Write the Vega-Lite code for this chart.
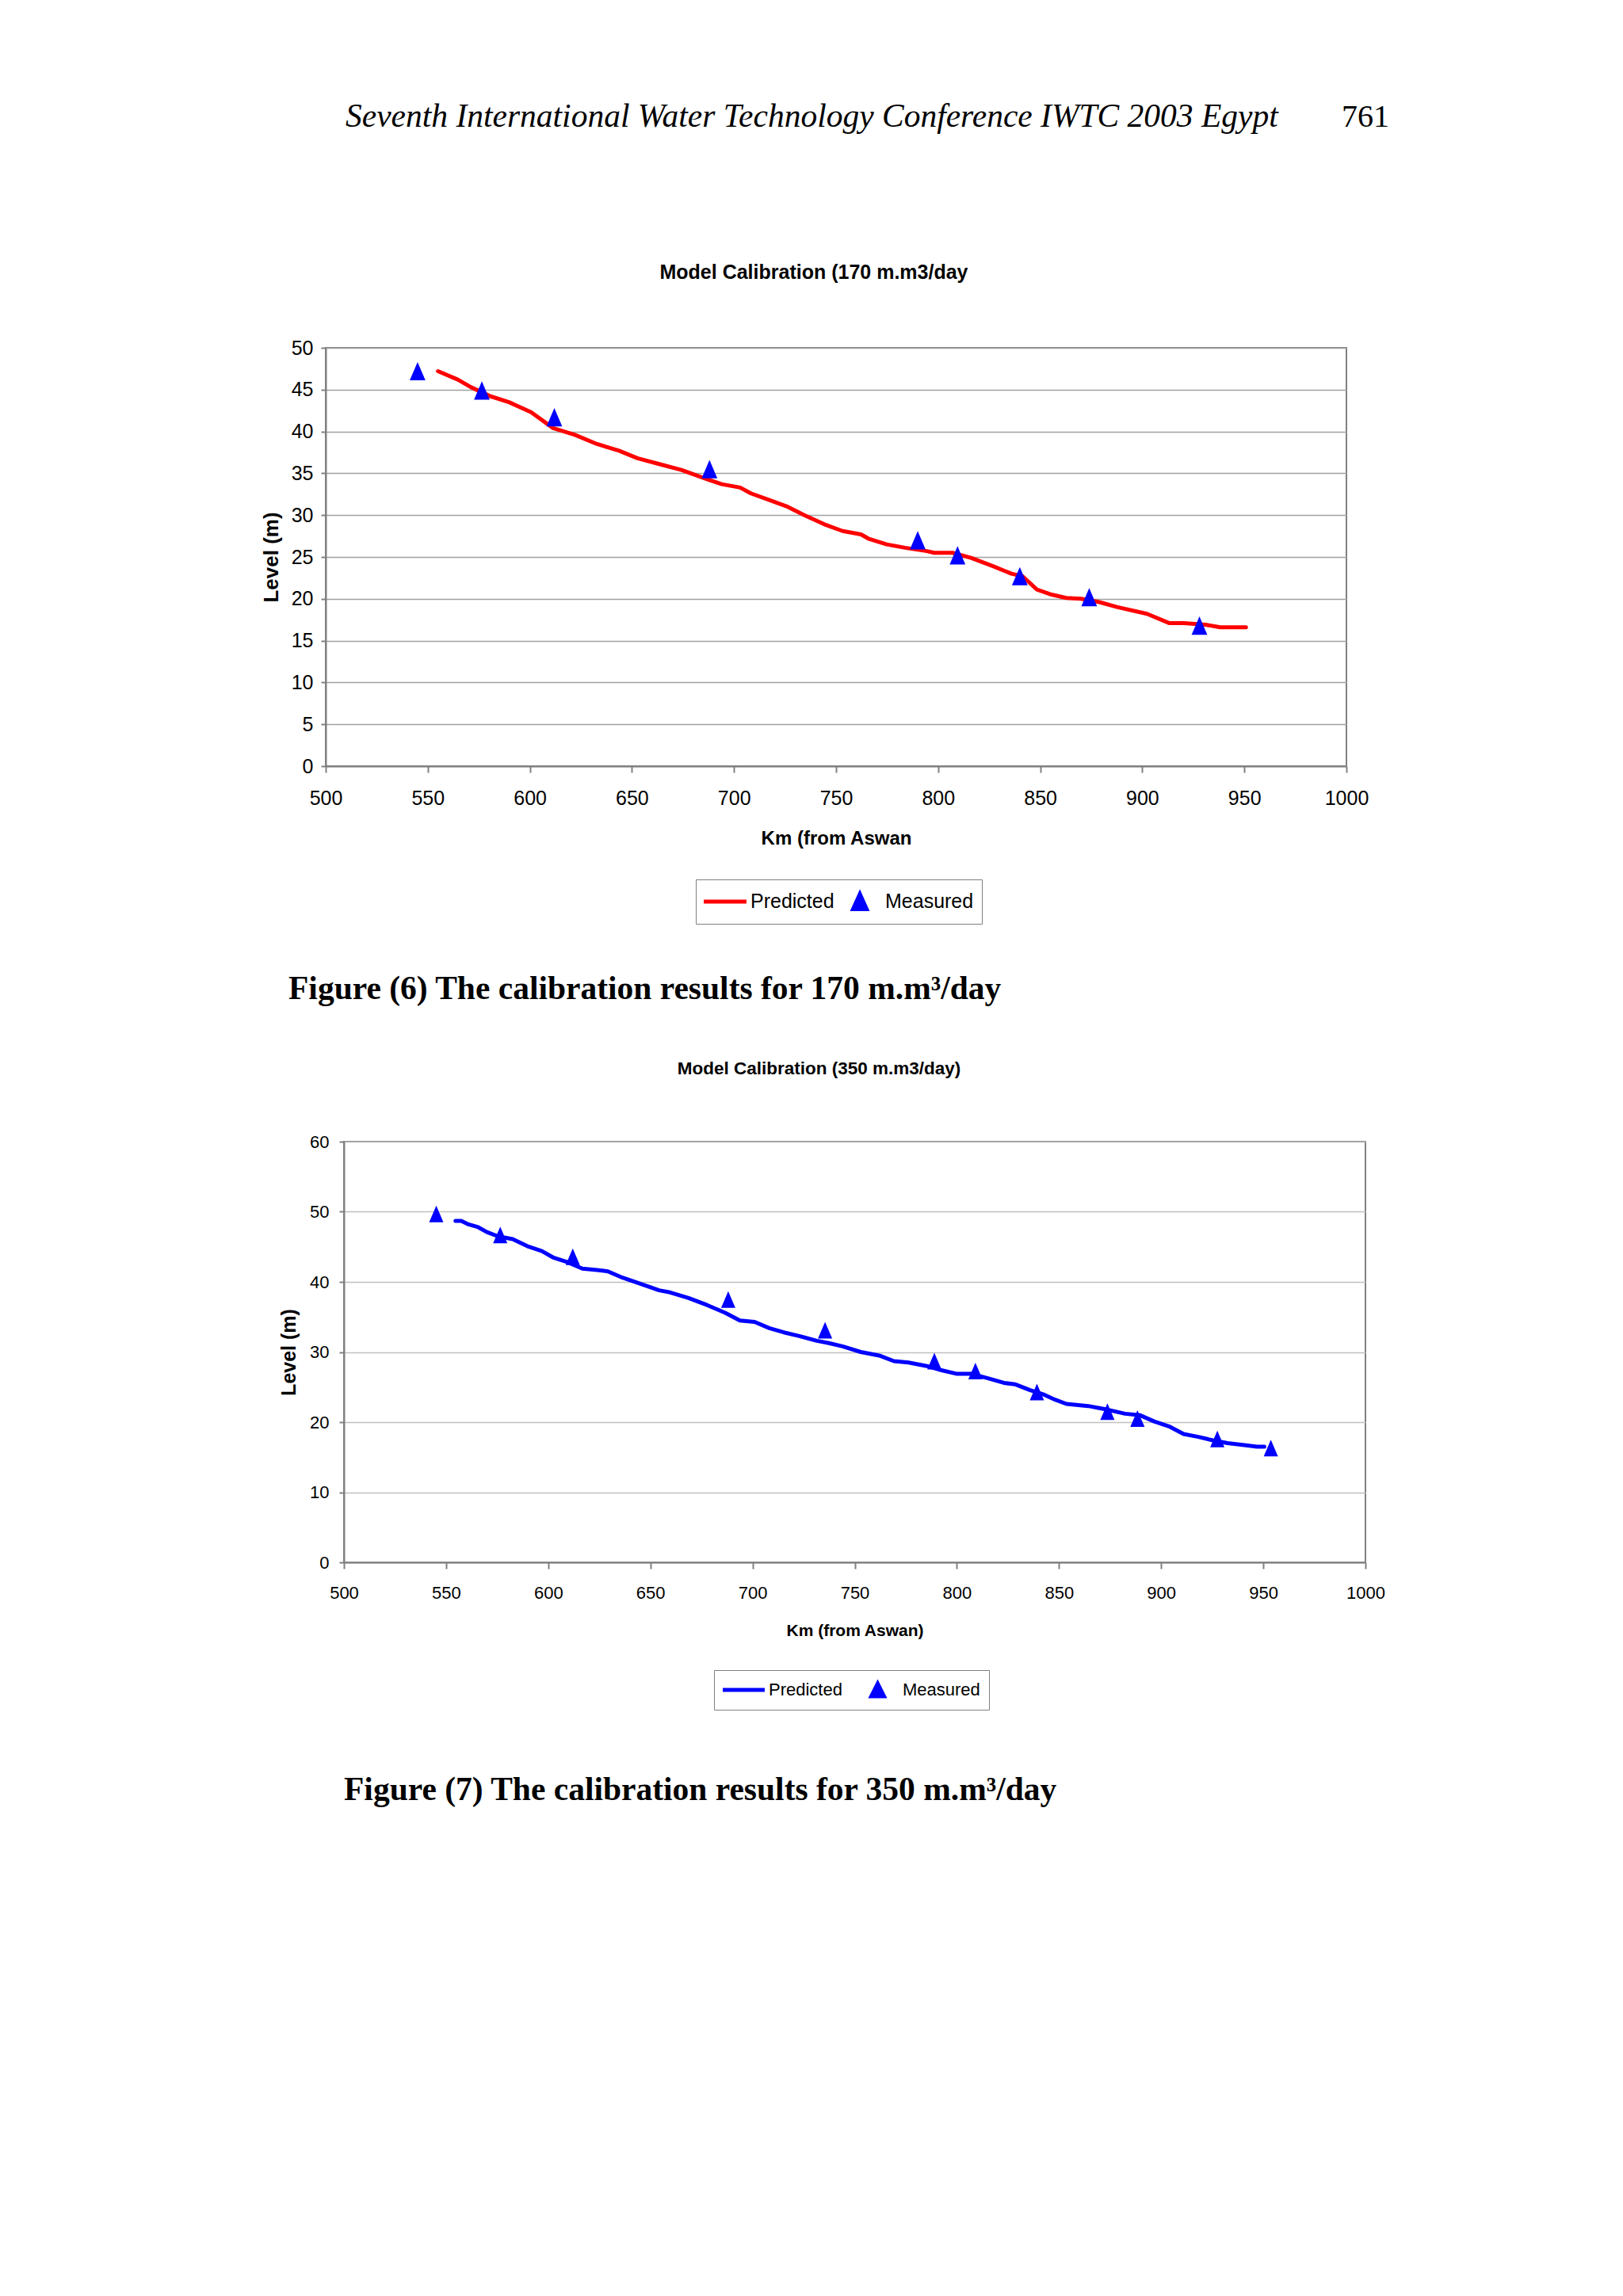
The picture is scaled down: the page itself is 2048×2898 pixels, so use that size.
{
  "$schema": "https://vega.github.io/schema/vega-lite/v6.json",
  "background": "white",
  "padding": {"left": 328, "top": 0, "right": 0, "bottom": 0},
  "bounds": "flush",
  "spacing": 0,
  "resolve": {"scale": {"color": "independent"}, "legend": {"color": "independent"}},
  "config": {
    "font": "Liberation Sans",
    "view": {"stroke": "#808080", "strokeWidth": 2},
    "axis": {"domainColor": "#808080", "domainWidth": 2, "tickColor": "#808080", "tickWidth": 2, "labelColor": "#000000", "titleColor": "#000000", "labelFont": "Liberation Sans", "titleFont": "Liberation Sans", "labelFlush": false, "labelOverlap": false},
    "title": {"color": "#000000", "font": "Liberation Sans", "fontWeight": "bold", "anchor": "middle"}
  },
  "datasets": {
    "header": [{"t": "Seventh International Water Technology Conference IWTC 2003 Egypt"}],
    "pageno": [{"t": "761"}],
    "cap6": [{"t": "Figure (6) The calibration results for 170 m.m³/day"}],
    "cap7": [{"t": "Figure (7) The calibration results for 350 m.m³/day"}],
    "pred170": [
      {"km": 555, "level": 47.2, "series": "Predicted"},
      {"km": 564.7, "level": 46.2, "series": "Predicted"},
      {"km": 571.1, "level": 45.3, "series": "Predicted"},
      {"km": 580.8, "level": 44.2, "series": "Predicted"},
      {"km": 589.8, "level": 43.5, "series": "Predicted"},
      {"km": 600.6, "level": 42.3, "series": "Predicted"},
      {"km": 611.4, "level": 40.4, "series": "Predicted"},
      {"km": 622.1, "level": 39.6, "series": "Predicted"},
      {"km": 632.9, "level": 38.5, "series": "Predicted"},
      {"km": 643.7, "level": 37.7, "series": "Predicted"},
      {"km": 652.7, "level": 36.8, "series": "Predicted"},
      {"km": 663.4, "level": 36.1, "series": "Predicted"},
      {"km": 674.2, "level": 35.4, "series": "Predicted"},
      {"km": 686.8, "level": 34.3, "series": "Predicted"},
      {"km": 694, "level": 33.7, "series": "Predicted"},
      {"km": 703, "level": 33.3, "series": "Predicted"},
      {"km": 708.3, "level": 32.6, "series": "Predicted"},
      {"km": 717.3, "level": 31.8, "series": "Predicted"},
      {"km": 726.3, "level": 31.0, "series": "Predicted"},
      {"km": 735.3, "level": 29.9, "series": "Predicted"},
      {"km": 744.3, "level": 28.9, "series": "Predicted"},
      {"km": 753.2, "level": 28.1, "series": "Predicted"},
      {"km": 762.2, "level": 27.7, "series": "Predicted"},
      {"km": 765.8, "level": 27.2, "series": "Predicted"},
      {"km": 774.8, "level": 26.5, "series": "Predicted"},
      {"km": 783.8, "level": 26.1, "series": "Predicted"},
      {"km": 794.5, "level": 25.7, "series": "Predicted"},
      {"km": 798.1, "level": 25.5, "series": "Predicted"},
      {"km": 807.1, "level": 25.5, "series": "Predicted"},
      {"km": 816.1, "level": 24.9, "series": "Predicted"},
      {"km": 826.9, "level": 23.9, "series": "Predicted"},
      {"km": 835.9, "level": 23.0, "series": "Predicted"},
      {"km": 841.3, "level": 22.7, "series": "Predicted"},
      {"km": 848.4, "level": 21.1, "series": "Predicted"},
      {"km": 855.6, "level": 20.5, "series": "Predicted"},
      {"km": 862.8, "level": 20.1, "series": "Predicted"},
      {"km": 870, "level": 20.0, "series": "Predicted"},
      {"km": 879, "level": 19.6, "series": "Predicted"},
      {"km": 887.9, "level": 19.0, "series": "Predicted"},
      {"km": 902.3, "level": 18.2, "series": "Predicted"},
      {"km": 913.1, "level": 17.1, "series": "Predicted"},
      {"km": 920.3, "level": 17.1, "series": "Predicted"},
      {"km": 931, "level": 16.9, "series": "Predicted"},
      {"km": 938.2, "level": 16.6, "series": "Predicted"},
      {"km": 950.8, "level": 16.6, "series": "Predicted"}
    ],
    "meas170": [
      {"km": 545, "level": 47.2, "series": "Measured"},
      {"km": 576.5, "level": 44.9, "series": "Measured"},
      {"km": 612, "level": 41.7, "series": "Measured"},
      {"km": 688, "level": 35.5, "series": "Measured"},
      {"km": 790, "level": 27.0, "series": "Measured"},
      {"km": 809.5, "level": 25.2, "series": "Measured"},
      {"km": 840, "level": 22.7, "series": "Measured"},
      {"km": 874, "level": 20.2, "series": "Measured"},
      {"km": 928, "level": 16.8, "series": "Measured"}
    ],
    "pred350": [
      {"km": 554.6, "level": 48.7, "series": "Predicted"},
      {"km": 557.4, "level": 48.7, "series": "Predicted"},
      {"km": 561.0, "level": 48.2, "series": "Predicted"},
      {"km": 565.7, "level": 47.8, "series": "Predicted"},
      {"km": 570.0, "level": 47.1, "series": "Predicted"},
      {"km": 575.4, "level": 46.5, "series": "Predicted"},
      {"km": 582.6, "level": 46.1, "series": "Predicted"},
      {"km": 589.7, "level": 45.1, "series": "Predicted"},
      {"km": 596.9, "level": 44.4, "series": "Predicted"},
      {"km": 602.3, "level": 43.5, "series": "Predicted"},
      {"km": 609.5, "level": 42.8, "series": "Predicted"},
      {"km": 616.7, "level": 41.9, "series": "Predicted"},
      {"km": 623.9, "level": 41.7, "series": "Predicted"},
      {"km": 629.2, "level": 41.5, "series": "Predicted"},
      {"km": 636.4, "level": 40.6, "series": "Predicted"},
      {"km": 645.4, "level": 39.7, "series": "Predicted"},
      {"km": 654.3, "level": 38.8, "series": "Predicted"},
      {"km": 659.7, "level": 38.5, "series": "Predicted"},
      {"km": 668.7, "level": 37.7, "series": "Predicted"},
      {"km": 677.7, "level": 36.7, "series": "Predicted"},
      {"km": 686.6, "level": 35.6, "series": "Predicted"},
      {"km": 693.8, "level": 34.5, "series": "Predicted"},
      {"km": 701.0, "level": 34.3, "series": "Predicted"},
      {"km": 708.2, "level": 33.4, "series": "Predicted"},
      {"km": 715.3, "level": 32.8, "series": "Predicted"},
      {"km": 722.5, "level": 32.3, "series": "Predicted"},
      {"km": 731.5, "level": 31.6, "series": "Predicted"},
      {"km": 736.9, "level": 31.3, "series": "Predicted"},
      {"km": 744.1, "level": 30.8, "series": "Predicted"},
      {"km": 753.0, "level": 30.0, "series": "Predicted"},
      {"km": 762.0, "level": 29.5, "series": "Predicted"},
      {"km": 769.2, "level": 28.7, "series": "Predicted"},
      {"km": 776.3, "level": 28.5, "series": "Predicted"},
      {"km": 785.3, "level": 28.0, "series": "Predicted"},
      {"km": 792.5, "level": 27.4, "series": "Predicted"},
      {"km": 799.7, "level": 26.9, "series": "Predicted"},
      {"km": 806.9, "level": 26.9, "series": "Predicted"},
      {"km": 815.9, "level": 26.2, "series": "Predicted"},
      {"km": 823.0, "level": 25.6, "series": "Predicted"},
      {"km": 828.4, "level": 25.4, "series": "Predicted"},
      {"km": 835.6, "level": 24.6, "series": "Predicted"},
      {"km": 842.8, "level": 23.9, "series": "Predicted"},
      {"km": 848.1, "level": 23.2, "series": "Predicted"},
      {"km": 853.6, "level": 22.6, "series": "Predicted"},
      {"km": 864.3, "level": 22.3, "series": "Predicted"},
      {"km": 873.3, "level": 21.8, "series": "Predicted"},
      {"km": 882.3, "level": 21.2, "series": "Predicted"},
      {"km": 889.5, "level": 21.0, "series": "Predicted"},
      {"km": 896.6, "level": 20.1, "series": "Predicted"},
      {"km": 903.8, "level": 19.4, "series": "Predicted"},
      {"km": 911.0, "level": 18.3, "series": "Predicted"},
      {"km": 918.2, "level": 17.9, "series": "Predicted"},
      {"km": 925.3, "level": 17.4, "series": "Predicted"},
      {"km": 932.5, "level": 17.0, "series": "Predicted"},
      {"km": 941.5, "level": 16.7, "series": "Predicted"},
      {"km": 946.9, "level": 16.5, "series": "Predicted"},
      {"km": 950.5, "level": 16.5, "series": "Predicted"}
    ],
    "meas350": [
      {"km": 545.2, "level": 49.7, "series": "Measured"},
      {"km": 576.5, "level": 46.7, "series": "Measured"},
      {"km": 612, "level": 43.6, "series": "Measured"},
      {"km": 688.1, "level": 37.5, "series": "Measured"},
      {"km": 735.5, "level": 33.1, "series": "Measured"},
      {"km": 789, "level": 28.7, "series": "Measured"},
      {"km": 809.1, "level": 27.3, "series": "Measured"},
      {"km": 839.2, "level": 24.3, "series": "Measured"},
      {"km": 873.7, "level": 21.5, "series": "Measured"},
      {"km": 888.4, "level": 20.5, "series": "Measured"},
      {"km": 927.5, "level": 17.6, "series": "Measured"},
      {"km": 953.7, "level": 16.3, "series": "Measured"}
    ]
  },
  "vconcat": [
    {
      "width": 1288,
      "height": 439,
      "view": {"stroke": null},
      "layer": [
        {
          "data": {"name": "header"},
          "mark": {"type": "text", "font": "Liberation Serif", "fontStyle": "italic", "fontSize": 41.5, "align": "left", "baseline": "middle", "color": "#000000"},
          "encoding": {"text": {"field": "t"}, "x": {"value": 25}, "y": {"value": 148}}
        },
        {
          "data": {"name": "pageno"},
          "mark": {"type": "text", "font": "Liberation Serif", "fontSize": 40, "align": "right", "baseline": "middle", "color": "#000000"},
          "encoding": {"text": {"field": "t"}, "x": {"value": 1342}, "y": {"value": 148}}
        }
      ]
    },
    {
      "width": 1288,
      "height": 528,
      "title": {"text": "Model Calibration (170 m.m3/day", "fontSize": 25, "dx": -28, "offset": 70},
      "layer": [
        {
          "data": {"name": "pred170"},
          "mark": {"type": "line", "strokeWidth": 5, "strokeCap": "round", "strokeJoin": "round"},
          "encoding": {
            "x": {"field": "km", "type": "quantitative", "scale": {"domain": [500, 1000], "nice": false, "zero": false},
              "axis": {"values": [500, 550, 600, 650, 700, 750, 800, 850, 900, 950, 1000], "format": "d", "title": "Km (from Aswan", "titleFontSize": 24, "titleFontWeight": "bold", "labelFontSize": 25, "tickSize": 8, "labelPadding": 20, "titlePadding": 26, "grid": false}},
            "y": {"field": "level", "type": "quantitative", "scale": {"domain": [0, 50], "nice": false},
              "axis": {"values": [0, 5, 10, 15, 20, 25, 30, 35, 40, 45, 50], "title": "Level (m)", "titleFontSize": 26, "titleFontWeight": "bold", "labelFontSize": 25, "tickSize": 6, "labelPadding": 10, "titlePadding": 12, "grid": true, "gridColor": "#a0a0a0", "gridWidth": 1.5}},
            "color": {"field": "series", "type": "nominal", "scale": {"domain": ["Predicted", "Measured"], "range": ["#ff0000", "#0000ff"]},
              "legend": {"title": null, "orient": "none", "legendX": 467, "legendY": 671, "direction": "horizontal", "labelFontSize": 25, "labelFont": "Liberation Sans", "labelColor": "#000000", "strokeColor": "#808080", "padding": 10, "clipHeight": 36, "symbolType": "stroke", "symbolSize": 2401, "symbolStrokeWidth": 5, "labelOffset": 5, "columnPadding": 5,
                "encode": {"symbols": {"update": {
                  "shape": {"signal": "datum.value === 'Measured' ? 'M0,-0.39L-0.35,0.39L0.35,0.39Z' : 'M-1.1,0L1.1,0'"},
                  "fill": {"signal": "datum.value === 'Measured' ? '#0000ff' : 'transparent'"},
                  "stroke": {"signal": "datum.value === 'Measured' ? 'transparent' : '#ff0000'"},
                  "opacity": {"value": 1}
                }}}}}
          }
        },
        {
          "data": {"name": "meas170"},
          "mark": {"type": "point", "filled": true, "opacity": 1, "shape": "M0,-1.05L-0.9,1.05L0.9,1.05Z", "size": 484},
          "encoding": {
            "x": {"field": "km", "type": "quantitative"},
            "y": {"field": "level", "type": "quantitative"},
            "color": {"field": "series", "type": "nominal"}
          }
        }
      ]
    },
    {
      "width": 1288,
      "height": 474,
      "view": {"stroke": null},
      "data": {"name": "cap6"},
      "mark": {"type": "text", "font": "Liberation Serif", "fontWeight": "bold", "fontSize": 41.5, "align": "left", "baseline": "middle", "color": "#000000"},
      "encoding": {"text": {"field": "t"}, "x": {"value": -47}, "y": {"value": 282}}
    },
    {
      "bounds": "flush",
      "spacing": 0,
      "hconcat": [
        {
          "width": 23,
          "height": 531,
          "view": {"stroke": null},
          "data": {"name": "pageno"},
          "mark": {"type": "text", "opacity": 0},
          "encoding": {"x": {"value": 0}, "y": {"value": 0}}
        },
        {
          "width": 1289,
          "height": 531,
          "title": {"text": "Model Calibration (350 m.m3/day)", "fontSize": 22.5, "dx": -45, "offset": 70},
          "layer": [
            {
              "data": {"name": "pred350"},
              "mark": {"type": "line", "strokeWidth": 5, "strokeCap": "round", "strokeJoin": "round"},
              "encoding": {
                "x": {"field": "km", "type": "quantitative", "scale": {"domain": [500, 1000], "nice": false, "zero": false},
                  "axis": {"values": [500, 550, 600, 650, 700, 750, 800, 850, 900, 950, 1000], "format": "d", "title": "Km (from Aswan)", "titleFontSize": 21, "titleFontWeight": "bold", "labelFontSize": 22, "tickSize": 8, "labelPadding": 20, "titlePadding": 26, "grid": false}},
                "y": {"field": "level", "type": "quantitative", "scale": {"domain": [0, 60], "nice": false},
                  "axis": {"values": [0, 10, 20, 30, 40, 50, 60], "title": "Level (m)", "titleFontSize": 25, "titleFontWeight": "bold", "labelFontSize": 22, "tickSize": 6, "labelPadding": 13, "titlePadding": 13, "grid": true, "gridColor": "#c0c0c0", "gridWidth": 1.5}},
                "color": {"field": "series", "type": "nominal", "scale": {"domain": ["Predicted", "Measured"], "range": ["#0000ff", "#0000ff"]},
                  "legend": {"title": null, "orient": "none", "legendX": 490, "legendY": 667, "direction": "horizontal", "labelFontSize": 22, "labelFont": "Liberation Sans", "labelColor": "#000000", "strokeColor": "#808080", "padding": 11, "clipHeight": 28, "symbolType": "stroke", "symbolSize": 2304, "symbolStrokeWidth": 5, "labelOffset": 5, "columnPadding": 18,
                    "encode": {"symbols": {"update": {
                      "shape": {"signal": "datum.value === 'Measured' ? 'M0,-0.333L-0.333,0.333L0.333,0.333Z' : 'M-1.104,0L1.104,0'"},
                      "fill": {"signal": "datum.value === 'Measured' ? '#0000ff' : 'transparent'"},
                      "stroke": {"signal": "datum.value === 'Measured' ? 'transparent' : '#0000ff'"},
                      "opacity": {"value": 1}
                    }}}}}
              }
            },
            {
              "data": {"name": "meas350"},
              "mark": {"type": "point", "filled": true, "opacity": 1, "shape": "M0,-1.05L-0.9,1.05L0.9,1.05Z", "size": 400},
              "encoding": {
                "x": {"field": "km", "type": "quantitative"},
                "y": {"field": "level", "type": "quantitative"},
                "color": {"field": "series", "type": "nominal"}
              }
            }
          ]
        }
      ]
    },
    {
      "width": 1288,
      "height": 1457,
      "view": {"stroke": null},
      "data": {"name": "cap7"},
      "mark": {"type": "text", "font": "Liberation Serif", "fontWeight": "bold", "fontSize": 41.5, "align": "left", "baseline": "middle", "color": "#000000"},
      "encoding": {"text": {"field": "t"}, "x": {"value": 23}, "y": {"value": 819}}
    }
  ]
}
